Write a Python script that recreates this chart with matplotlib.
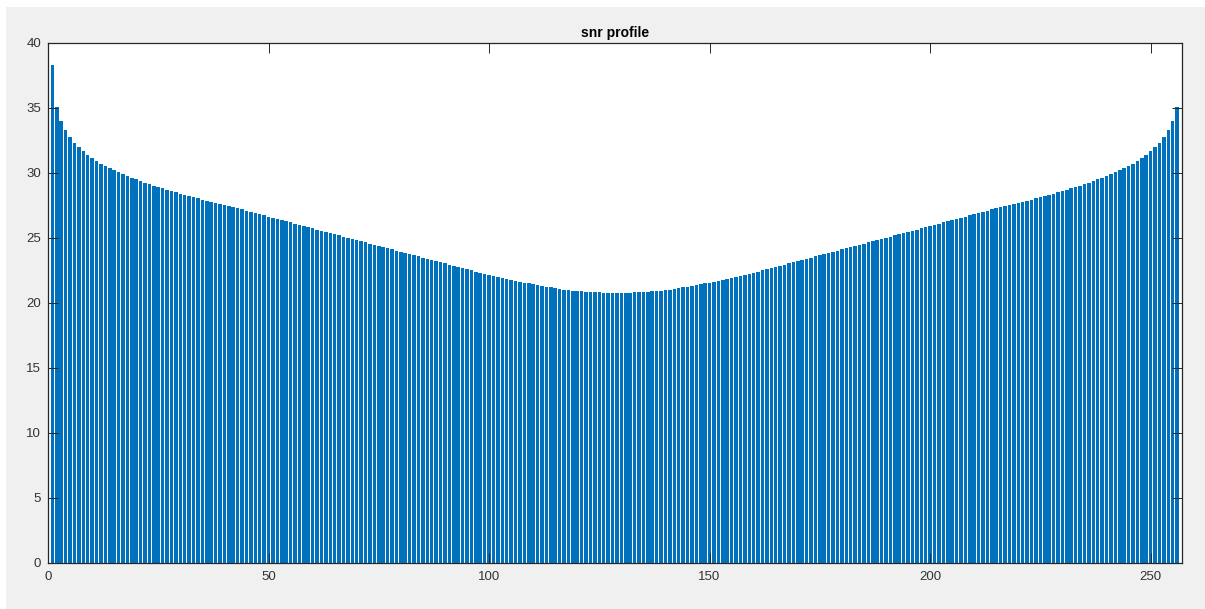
import matplotlib
matplotlib.use("Agg")
import matplotlib.pyplot as plt
from matplotlib.patches import Rectangle

# SNR per bin, bins 1..129 (falling branch down to the minimum)
snr_left = [
    38.28, 35.08, 33.98, 33.27, 32.75, 32.32, 31.95, 31.64, 31.36, 31.11,
    30.89, 30.69, 30.51, 30.33, 30.17, 30.02, 29.88, 29.74, 29.61, 29.48,
    29.36, 29.24, 29.12, 29.01, 28.90, 28.79, 28.69, 28.59, 28.49, 28.39,
    28.30, 28.20, 28.11, 28.02, 27.93, 27.84, 27.76, 27.67, 27.59, 27.50,
    27.42, 27.34, 27.25, 27.17, 27.08, 26.99, 26.90, 26.81, 26.72, 26.63,
    26.54, 26.45, 26.36, 26.27, 26.18, 26.09, 26.00, 25.90, 25.81, 25.72,
    25.63, 25.54, 25.45, 25.36, 25.27, 25.18, 25.09, 25.00, 24.91, 24.82,
    24.73, 24.64, 24.55, 24.46, 24.37, 24.28, 24.19, 24.10, 24.01, 23.92,
    23.83, 23.74, 23.65, 23.56, 23.47, 23.38, 23.29, 23.20, 23.11, 23.02,
    22.93, 22.84, 22.75, 22.66, 22.57, 22.48, 22.40, 22.31, 22.23, 22.15,
    22.07, 21.99, 21.91, 21.84, 21.76, 21.69, 21.62, 21.55, 21.48, 21.41,
    21.35, 21.28, 21.22, 21.17, 21.11, 21.06, 21.01, 20.97, 20.93, 20.90,
    20.87, 20.84, 20.82, 20.80, 20.79, 20.78, 20.77, 20.77, 20.76,
]

# SNR per bin, bins 130..256 (rising branch)
snr_right = [
    20.77, 20.77, 20.78, 20.79, 20.80, 20.82, 20.84, 20.87, 20.90, 20.93,
    20.97, 21.01, 21.06, 21.11, 21.17, 21.22, 21.28, 21.35, 21.41, 21.48,
    21.55, 21.62, 21.69, 21.76, 21.84, 21.91, 21.99, 22.07, 22.15, 22.23,
    22.31, 22.40, 22.48, 22.57, 22.66, 22.75, 22.84, 22.93, 23.02, 23.11,
    23.20, 23.29, 23.38, 23.47, 23.56, 23.65, 23.74, 23.83, 23.92, 24.01,
    24.10, 24.19, 24.28, 24.37, 24.46, 24.55, 24.64, 24.73, 24.82, 24.91,
    25.00, 25.09, 25.18, 25.27, 25.36, 25.45, 25.54, 25.63, 25.72, 25.81,
    25.90, 26.00, 26.09, 26.18, 26.27, 26.36, 26.45, 26.54, 26.63, 26.72,
    26.81, 26.90, 26.99, 27.08, 27.17, 27.25, 27.34, 27.42, 27.50, 27.59,
    27.67, 27.76, 27.84, 27.93, 28.02, 28.11, 28.20, 28.30, 28.39, 28.49,
    28.59, 28.69, 28.79, 28.90, 29.01, 29.12, 29.24, 29.36, 29.48, 29.61,
    29.74, 29.88, 30.02, 30.17, 30.33, 30.51, 30.69, 30.89, 31.11, 31.36,
    31.64, 31.95, 32.32, 32.75, 33.27, 33.98, 35.08,
]

snr = snr_left + snr_right
bins = list(range(1, len(snr) + 1))

x_ticks = [0, 50, 100, 150, 200, 250]
y_ticks = [0, 5, 10, 15, 20, 25, 30, 35, 40]
title_text = "snr profile"

plt.rcParams["font.family"] = ["Liberation Sans", "DejaVu Sans"]

fig = plt.figure(figsize=(12.05, 6.09), dpi=100)
fig.patch.set_facecolor("white")
# grey window panel
fig.patches.append(Rectangle((6 / 1205, 0), 1 - 6 / 1205, 1 - 7 / 609,
                             transform=fig.transFigure, facecolor="#f0f0f0",
                             edgecolor="none", zorder=-10))

ax = fig.add_axes([48 / 1205, 46.3 / 609, 1133.5 / 1205, 520 / 609])
ax.set_facecolor("white")
ax.bar(bins, snr, width=0.8, color="#0072BD", edgecolor="none", linewidth=0)

ax.set_xlim(0, 257)
ax.set_ylim(0, 40)
ax.set_xticks(x_ticks)
ax.set_yticks(y_ticks)

axis_col = "#262626"
for s in ax.spines.values():
    s.set_color(axis_col)
    s.set_linewidth(0.9)
ax.tick_params(direction="in", length=7, width=0.7, color=axis_col,
               labelcolor="#333333", labelsize=9.5,
               top=True, right=True)
ax.tick_params(axis="x", pad=6)
ax.tick_params(axis="y", pad=5)

ax.set_title(title_text, fontsize=10, fontweight="bold", color="black", pad=4)

fig.savefig("out.png", dpi=100, facecolor=fig.get_facecolor())
